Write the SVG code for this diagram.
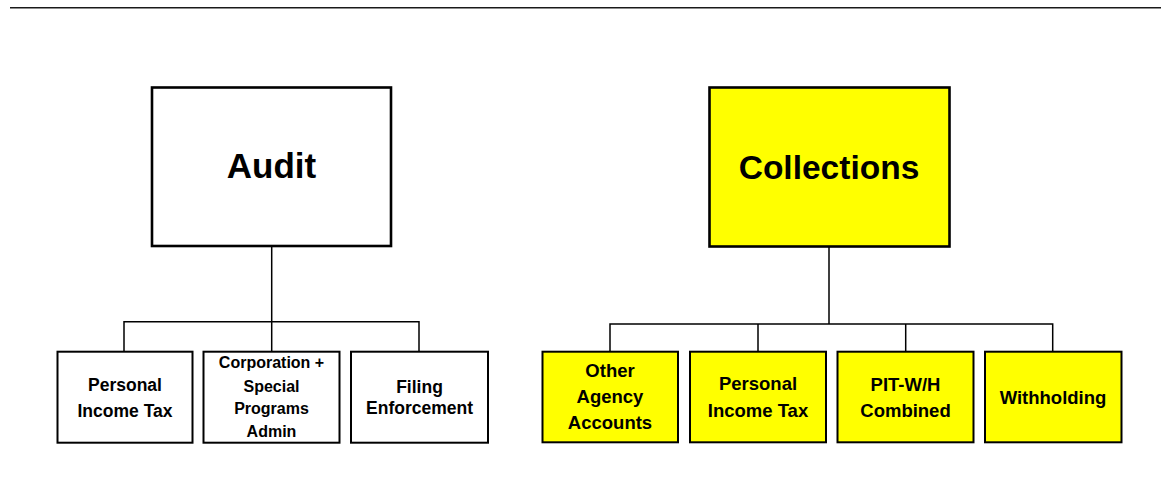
<svg xmlns="http://www.w3.org/2000/svg" width="1161" height="483" viewBox="0 0 1161 483">
<style>
.main{stroke:#000;stroke-width:2.6;}
.child{stroke:#000;stroke-width:2;}
.w{fill:#fff;}
.y{fill:#ffff00;}
.conn{stroke:#000;stroke-width:1.5;fill:none;}
text{font-family:"Liberation Sans",Arial,sans-serif;font-weight:bold;fill:#000;text-anchor:middle;}
.big{font-size:35px;}
.big2{font-size:33.5px;}
.s{font-size:17.5px;}
.s2{font-size:16px;}
.sy{font-size:18.5px;}
</style>
<rect width="1161" height="483" fill="#fff"/>
<line x1="10" y1="7.7" x2="1161" y2="7.7" stroke="#1a1a1a" stroke-width="1.6"/>
<g id="connectors">
<path class="conn" d="M271.7 246 V351 M124 351 V321.7 H419 V351"/>
<path class="conn" d="M829 247 V324 M610 351 V324 H1052.7 V351 M758 324 V351 M905.7 324 V351"/>
</g>
<g id="audit">
<rect class="main w" x="152" y="87.5" width="239" height="158.5"/>
<text class="big" x="271.5" y="178">Audit</text>
</g>
<g id="collections">
<rect class="main y" x="709.5" y="87.5" width="240" height="159"/>
<text class="big2" x="829" y="179">Collections</text>
</g>
<g id="audit-pit">
<rect class="child w" x="57.5" y="351.7" width="135" height="91"/>
<text class="s" x="125" y="390.7">Personal</text>
<text class="s" x="125" y="417.3">Income Tax</text>
</g>
<g id="audit-corp">
<rect class="child w" x="203.5" y="351.7" width="136" height="91"/>
<text class="s2" x="271.5" y="368.3">Corporation +</text>
<text class="s2" x="271.5" y="391.7">Special</text>
<text class="s2" x="271.5" y="414.3">Programs</text>
<text class="s2" x="271.5" y="437.3">Admin</text>
</g>
<g id="audit-filing">
<rect class="child w" x="351" y="351.7" width="137" height="91"/>
<text class="s" x="419.5" y="392.5">Filing</text>
<text class="s" x="419.5" y="414.3">Enforcement</text>
</g>
<g id="col-other">
<rect class="child y" x="542.5" y="351.7" width="135.5" height="90.6"/>
<text class="sy" x="610" y="376.7">Other</text>
<text class="sy" x="610" y="403">Agency</text>
<text class="sy" x="610" y="429.3">Accounts</text>
</g>
<g id="col-pit">
<rect class="child y" x="690" y="351.7" width="136" height="90.6"/>
<text class="sy" x="758" y="390">Personal</text>
<text class="sy" x="758" y="416.7">Income Tax</text>
</g>
<g id="col-pitwh">
<rect class="child y" x="837.5" y="351.7" width="136" height="90.6"/>
<text class="sy" x="905.5" y="390.7">PIT-W/H</text>
<text class="sy" x="905.5" y="416.7">Combined</text>
</g>
<g id="col-withholding">
<rect class="child y" x="985" y="351.7" width="136.5" height="90.6"/>
<text class="sy" x="1053" y="404">Withholding</text>
</g>
</svg>
